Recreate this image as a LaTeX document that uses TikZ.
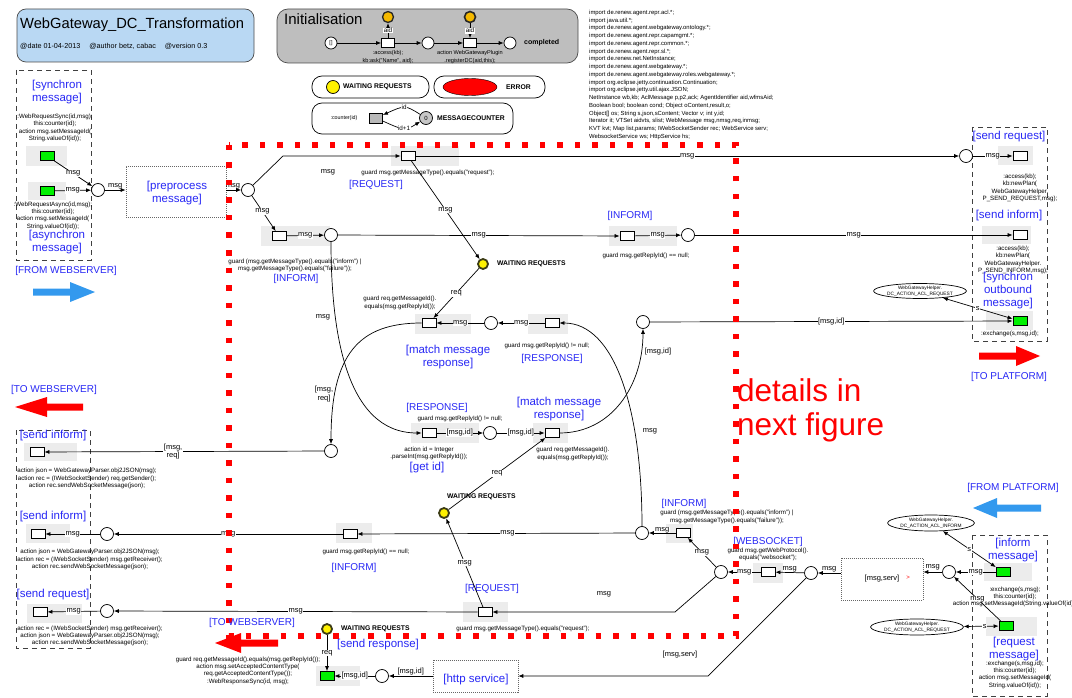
\documentclass[tikz,border=0pt]{standalone}
\usepackage{fontspec}
\setmainfont{Liberation Sans}
\usetikzlibrary{arrows.meta,shapes.geometric}
\definecolor{titleblue}{RGB}{185,216,243}
\definecolor{initgray}{RGB}{190,190,190}
\definecolor{bggray}{RGB}{236,236,236}
\definecolor{labblue}{RGB}{40,40,245}
\definecolor{fromblue}{RGB}{51,153,238}
\definecolor{waitborder}{RGB}{60,60,20}
\definecolor{inityellow}{RGB}{245,185,0}
\definecolor{tgreen}{RGB}{0,240,0}
\tikzset{
  pl/.style={circle, draw, fill=white, minimum size=13pt, inner sep=0pt, line width=0.7pt},
  tr/.style={rectangle, draw, fill=white, minimum width=14pt, minimum height=9pt, inner sep=0pt, line width=0.8pt},
  gtr/.style={tr, fill=tgreen},
  wait/.style={circle, draw=waitborder, fill=yellow, line width=1.8pt, minimum size=10pt, inner sep=0pt},
  lbl/.style={font=\fontsize{7.5}{8.5}\selectfont, inner sep=0.5pt, align=center},
  wlbl/.style={lbl, fill=white},
  code/.style={font=\fontsize{6.2}{7.3}\selectfont, inner sep=0pt, align=center},
  bluelab/.style={text=labblue, font=\fontsize{11.5}{13}\selectfont, inner sep=0pt, align=center},
  bluecap/.style={text=labblue, font=\fontsize{10}{13}\selectfont, inner sep=0pt, align=center},
  boldlab/.style={font=\bfseries\fontsize{6.8}{8}\selectfont, inner sep=0pt},
  arc/.style={-{Latex[length=5pt,width=4pt]}, line width=0.7pt},
  biarc/.style={{Latex[length=5pt,width=4pt]}-{Latex[length=5pt,width=4pt]}, line width=0.7pt},
  dbox/.style={draw=black!75, line width=0.9pt, dash pattern=on 5pt off 4pt},
  vbox/.style={draw=black!60, line width=0.6pt, dash pattern=on 1pt off 1pt, fill=white, inner sep=0pt},
  ell/.style={ellipse, draw, fill=white, line width=0.7pt, inner sep=0pt, font=\fontsize{4.8}{5.5}\selectfont, align=center},
}
\begin{document}
\begin{tikzpicture}[x=1pt,y=-1pt]
\useasboundingbox (0,0) rectangle (1072,698);
\fill[white] (0,0) rectangle (1072,698);

% ---------------- title
\node[draw=black!70, fill=titleblue, rounded corners=9pt, minimum width=237pt, minimum height=53pt, line width=0.7pt] (titlebox) at (135.5,35.5) {};
\node[anchor=west, font=\fontsize{14.7}{16}\selectfont, inner sep=0pt] (title) at (20,25) {WebGateway\_DC\_Transformation};
\node[anchor=west, font=\fontsize{7.2}{8}\selectfont, inner sep=0pt] (meta) at (20,46) {@date 01-04-2013\hspace{9pt}@author betz, cabac\hspace{9pt}@version 0.3};

% ---------------- initialisation
\node[draw=black!70, fill=initgray, rounded corners=11pt, minimum width=301pt, minimum height=54pt, line width=0.7pt] (initbox) at (427.5,36) {};
\node[anchor=west, font=\fontsize{15}{16}\selectfont, inner sep=0pt] (inittitle) at (284,19) {Initialisation};
\node[pl, minimum size=12pt, font=\fontsize{5.5}{6}\selectfont] (pzero) at (331,43) {[]};
\node[tr, minimum width=13pt] (tone) at (388,43) {};
\node[pl, minimum size=11pt, fill=inityellow, draw=black!85, line width=1.3pt] (yone) at (388,17) {};
\node[pl, minimum size=12pt] (pone) at (428,43) {};
\node[tr, minimum width=13pt] (ttwo) at (470,43) {};
\node[pl, minimum size=11pt, fill=inityellow, draw=black!85, line width=1.6pt] (ytwo) at (470,17) {};
\node[pl, minimum size=12pt] (ptwo) at (510,43) {};
\node[anchor=west, font=\bfseries\fontsize{7}{8}\selectfont, inner sep=0pt] (completed) at (524,43) {completed};
\draw[arc] (pzero) -- (tone);
\draw[arc] (tone) -- (pone);
\draw[arc] (pone) -- (ttwo);
\draw[arc] (ttwo) -- (ptwo);
\draw[arc] (tone) -- node[wlbl, font=\fontsize{6.3}{7}\selectfont]{aid} (yone);
\draw[arc] (ytwo) -- node[wlbl, font=\fontsize{6.3}{7}\selectfont]{aid} (ttwo);
\node[code, font=\fontsize{5.6}{8}\selectfont] (accesskb) at (388,57) {:access(kb);\\kb:ask("Name", aid);};
\node[code, font=\fontsize{5.6}{8}\selectfont] (regdc) at (470,57) {action WebGatewayPlugin\\.registerDC(aid,this);};

% ---------------- legends
\node[draw, rounded corners=10pt, minimum width=117pt, minimum height=22pt, line width=0.7pt] (legwait) at (370.5,87) {};
\node[circle, draw, fill=yellow, minimum size=13pt, inner sep=0pt, line width=0.7pt] (legy) at (333,87) {};
\node[boldlab, anchor=west] (legwaittxt) at (343,87) {WAITING REQUESTS};
\node[draw, rounded corners=10pt, minimum width=111pt, minimum height=22pt, line width=0.7pt] (legerr) at (489.5,87) {};
\node[ellipse, draw, fill=red, minimum width=54pt, minimum height=17pt, inner sep=0pt] (legred) at (470,87) {};
\node[boldlab, anchor=west] (legerrtxt) at (506,87) {ERROR};
\node[draw, rounded corners=10pt, minimum width=201pt, minimum height=31pt, line width=0.7pt] (legcnt) at (412.5,118.5) {};
\node[code, font=\fontsize{5.3}{6}\selectfont] (cntlab) at (344,118) {:counter(id)};
\node[tr, fill=gray!55, minimum width=13pt, minimum height=10pt] (cntt) at (376,118) {};
\node[pl, fill=gray!45, minimum size=13pt, font=\fontsize{6}{7}\selectfont] (cntp) at (426,118) {0};
\node[boldlab, anchor=west] (cnttxt) at (437,118) {MESSAGECOUNTER};
\draw[arc] (cntp) .. controls (405,105) .. node[wlbl, font=\fontsize{6.3}{7}\selectfont]{id} (cntt);
\draw[arc] (cntt) .. controls (405,131) .. node[wlbl, font=\fontsize{6.3}{7}\selectfont]{id+1} (cntp);

% ---------------- declarations
\node[anchor=north west, align=left, inner sep=0pt, font=\fontsize{5.9}{7.75}\selectfont] (imports) at (589,10) {import de.renew.agent.repr.acl.*;\\
import java.util.*;\\
import de.renew.agent.webgateway.ontology.*;\\
import de.renew.agent.repr.capamgmt.*;\\
import de.renew.agent.repr.common.*;\\
import de.renew.agent.repr.sl.*;\\
import de.renew.net.NetInstance;\\
import de.renew.agent.webgateway.*;\\
import de.renew.agent.webgateway.roles.webgateway.*;\\
import org.eclipse.jetty.continuation.Continuation;\\
import org.eclipse.jetty.util.ajax.JSON;\\
NetInstance wb,kb; AclMessage p,p2,ack; AgentIdentifier aid,wfmsAid;\\
Boolean bool; boolean cond; Object oContent,result,o;\\
Object[] os; String s,json,sContent; Vector v; int y,id;\\
Iterator it; VTSet aidvts, slist; WebMessage msg,nmsg,req,inmsg;\\
KVT kvt; Map list,params; IWebSocketSender rec; WebService serv;\\
WebsocketService ws; HttpService hs;};

% ---------------- transition backgrounds
\fill[bggray] (26,146) rectangle (67,166);
\fill[bggray] (28,182) rectangle (66,200);
\fill[bggray] (391,146) rectangle (459,166);
\fill[bggray] (261,226) rectangle (330,246);
\fill[bggray] (609,226) rectangle (677,246);
\fill[bggray] (998,146) rectangle (1033,165);
\fill[bggray] (982,226) rectangle (1031,244);
\fill[bggray] (986,311) rectangle (1033,330);
\fill[bggray] (415,314) rectangle (471,334);
\fill[bggray] (528,314) rectangle (568,334);
\fill[bggray] (411,423) rectangle (479,443);
\fill[bggray] (533,423) rectangle (568,443);
\fill[bggray] (666,524) rectangle (693,543);
\fill[bggray] (753,563) rectangle (783,583);
\fill[bggray] (984,563) rectangle (1032,581);
\fill[bggray] (986,617) rectangle (1037,636);
\fill[bggray] (463,602) rectangle (508,622);
\fill[bggray] (336,523) rectangle (372,543);
\fill[bggray] (27,604) rectangle (82,623);
\fill[bggray] (24,443) rectangle (77,461);
\fill[bggray] (26,524) rectangle (70,543);
\fill[bggray] (316,666) rectangle (360,686);

% ---------------- dashed boxes
\draw[dbox] (16,70) rectangle (91,260);
\draw[dbox] (972,127) rectangle (1047,341);
\draw[dbox] (16,430) rectangle (90,648);
\draw[dbox] (972,535) rectangle (1047,696);

% ---------------- left: from webserver
\node[bluelab] (synclab) at (57,92.5) {[synchron\\message]};
\node[code] (synccode) at (55,128) {:WebRequestSync(id,msg);\\this:counter(id);\\action msg.setMessageId(\\String.valueOf(id));};
\node[gtr] (tsone) at (47,156) {};
\node[gtr] (tstwo) at (47,191) {};
\node[pl] (pin) at (98,190) {};
\draw[arc] (tsone) -- node[wlbl]{msg} (pin);
\draw[arc] (tstwo) -- node[wlbl]{msg} (pin);
\node[code] (asynccode) at (53,215.5) {:WebRequestAsync(id,msg);\\this:counter(id);\\action msg.setMessageId(\\String.valueOf(id));};
\node[bluelab] (asynclab) at (57,242.5) {[asynchron\\message]};
\node[bluecap] (fromweb) at (66,271) {[FROM WEBSERVER]};
\fill[fromblue] (33,288.5) -- (70,288.5) -- (70,282) -- (95,292) -- (70,302) -- (70,295.5) -- (33,295.5) -- cycle;
\node[vbox, minimum width=100pt, minimum height=51pt] (prep) at (176,191.5) {};
\node[bluelab] (preplab) at (177,193) {[preprocess\\message]};
\draw[arc] (pin) -- node[lbl, above]{msg} (prep.west |- pin);

% ---------------- top part of inner net
\node[pl] (pa) at (248,190) {};
\draw[arc] (prep.east |- pa) -- node[lbl, above, pos=0.45]{msg} (pa);
\node[tr] (treq) at (408,156) {};
\draw[arc] (pa) -- (283,156) -- (treq);
\node[lbl] (msgfree1) at (328,172) {msg};
\node[code] (guardreq) at (428,173) {guard msg.getMessageType().equals("request");};
\node[bluecap] (reqlab) at (376,185) {[REQUEST]};
\node[wait] (wone) at (483,264) {};
\node[boldlab, anchor=west] (wonelab) at (497,264) {WAITING REQUESTS};
\draw[arc] (treq) -- node[wlbl]{msg} (wone);
\node[tr] (tinfone) at (279,236) {};
\draw[arc] (pa) -- node[wlbl, pos=0.45]{msg} (tinfone);
\node[pl] (pb) at (331,235) {};
\draw[arc] (tinfone) -- node[wlbl]{msg} (pb);
\node[code] (guardinf1) at (295,265.5) {guard (msg.getMessageType().equals("inform") |\\msg.getMessageType().equals("failure"));};
\node[bluecap] (inflab1) at (296,279) {[INFORM]};
\node[tr] (tinftwo) at (627,236) {};
\draw[arc] (pb) -- node[wlbl]{msg} (tinftwo);
\node[pl] (pc) at (688,235) {};
\draw[arc] (tinftwo) -- node[wlbl]{msg} (pc);
\node[bluecap] (inflab2) at (630,216) {[INFORM]};
\node[code] (guardinf2) at (646,256) {guard msg.getReplyId() == null;};

% ---------------- right: to platform
\node[bluelab] (sreqlab) at (1009,137) {[send request]};
\node[pl] (psr) at (966,156) {};
\node[tr] (tsr) at (1020,156) {};
\draw[arc] (treq) -- node[wlbl]{msg} (psr);
\draw[arc] (psr) -- node[wlbl]{msg} (tsr);
\node[code] (sreqcode) at (1020,188) {:access(kb);\\kb:newPlan(\\WebGatewayHelper.\\P\_SEND\_REQUEST,msg);};
\node[bluelab] (sinflab) at (1009,216) {[send inform]};
\node[tr] (tsi) at (1020,235) {};
\draw[arc] (pc) -- node[wlbl]{msg} (tsi);
\node[code] (sinfcode) at (1013,260) {:access(kb);\\kb:newPlan(\\WebGatewayHelper.\\P\_SEND\_INFORM,msg);};
\node[bluelab] (synoutlab) at (1008,290.5) {[synchron\\outbound\\message]};
\node[ell, minimum width=78pt, minimum height=15pt] (ellreq) at (920,291) {WebGatewayHelper.\\DC\_ACTION\_ACL\_REQUEST};
\node[gtr] (tso) at (1020,321) {};
\draw[biarc] (ellreq) -- node[wlbl]{s} (tso);
\node[code] (exchcode) at (1010,334) {:exchange(s,msg,id);};
\node[pl] (pd) at (643,322) {};
\draw[arc] (pd) -- node[wlbl]{[msg,id]} (tso);
\fill[red] (979,352.5) -- (1016,352.5) -- (1016,346) -- (1040,356) -- (1016,366) -- (1016,359.5) -- (979,359.5) -- cycle;
\node[bluecap] (toplat) at (1009,377) {[TO PLATFORM]};

% ---------------- middle: response matching
\node[tr] (tmmone) at (429,323) {};
\draw[arc] (wone) -- node[wlbl]{req} (tmmone);
\node[code] (guardmm1) at (400,303) {guard req.getMessageId().\\equals(msg.getReplyId());};
\node[pl] (pe) at (491,323) {};
\draw[arc] (pe) -- node[wlbl]{msg} (tmmone);
\node[tr] (tresp) at (552,323) {};
\draw[arc] (tresp) -- node[wlbl]{msg} (pe);
\node[code] (guardresp1) at (547,346) {guard msg.getReplyId() != null;};
\node[bluecap] (resplab1) at (552,359) {[RESPONSE]};
\node[bluelab] (mmlab1) at (448,357.5) {[match message\\response]};
\node[pl] (pf) at (331,451) {};
\draw[arc] (tmmone) .. controls (358,323) and (331,355) .. (pf);
\node[lbl] (msgreqfree) at (324,394) {[msg,\\req]};
\node[tr] (tgetid) at (429,433) {};
\draw[arc] (pb) .. controls (331,330) and (345,433) .. (tgetid);
\node[lbl] (msgfree2) at (323,317) {msg};
\node[bluecap] (resplab2) at (437,408) {[RESPONSE]};
\node[code] (guardresp2) at (460,418.5) {guard msg.getReplyId() != null;};
\node[pl] (pg) at (490,433) {};
\draw[arc] (tgetid) -- node[wlbl]{[msg,id]} (pg);
\node[tr] (tmmtwo) at (552,433) {};
\draw[arc] (pg) -- node[wlbl]{[msg,id]} (tmmtwo);
\node[bluelab] (mmlab2) at (559,409) {[match message\\response]};
\node[code] (getidcode) at (429,453.5) {action id = Integer\\.parseInt(msg.getReplyId());};
\node[bluelab] (getidlab) at (427,468) {[get id]};
\node[code] (guardmm2) at (573,454) {guard req.getMessageId().\\equals(msg.getReplyId());};
\node[wait] (wtwo) at (444,513) {};
\node[boldlab, anchor=west] (wtwolab) at (447,497) {WAITING REQUESTS};
\draw[arc] (wtwo) -- node[wlbl]{req} (tmmtwo);
\draw[arc] (tmmtwo) .. controls (612,433) and (643,385) .. (pd);
\node[lbl] (msgidfree) at (658,352) {[msg,id]};
\node[pl] (ph) at (642,533) {};
\draw[arc] (ph) .. controls (642,410) and (615,323) .. (tresp);
\node[lbl] (msgfree3) at (650,431) {msg};
\node[red, anchor=west, align=left, inner sep=0pt, font=\fontsize{31.5}{34}\selectfont] (details) at (737,410) {details in\\next figure};

% ---------------- lower part
\node[tr] (tinfthree) at (683,533) {};
\draw[arc] (tinfthree) -- node[wlbl, yshift=3pt]{msg} (ph);
\node[bluecap] (inflab3) at (684,504) {[INFORM]};
\node[code] (guardinf3) at (727,517) {guard (msg.getMessageType().equals("inform") |\\msg.getMessageType().equals("failure"));};
\node[pl] (pii) at (721,572) {};
\draw[arc] (pii) -- node[wlbl]{msg} (tinfthree);
\node[tr] (tws) at (768,572) {};
\draw[arc] (tws) -- node[wlbl]{msg} (pii);
\node[bluecap] (wslab) at (768,542) {[WEBSOCKET]};
\node[code] (guardws) at (768,554.5) {guard msg.getWebProtocol().\\equals("websocket");};
\node[pl] (pj) at (811,573) {};
\draw[arc] (pj) -- node[lbl, above]{msg} (tws);
\node[vbox, minimum width=82pt, minimum height=42pt] (msgserv) at (882,579) {};
\node[lbl] (msgservtxt) at (882,579) {[msg,serv]};
\node[text=red, font=\fontsize{6}{7}\selectfont, inner sep=0pt] (redmark) at (908,578) {>};
\draw[arc] (msgserv.west |- pj) -- node[lbl, above]{msg} (pj);
\node[pl] (pk) at (949,572) {};
\draw[arc] (pk) -- node[lbl, above, yshift=1pt]{msg} (msgserv.east |- pk);
\node[gtr] (tim) at (1003,572) {};
\draw[arc] (tim) -- node[wlbl]{msg} (pk);
\node[gtr] (trm) at (1006,626) {};
\draw[arc] (trm) -- node[wlbl]{msg} (pk);
\node[ell, minimum width=78pt, minimum height=16pt] (ellinf) at (931,523) {WebGatewayHelper.\\DC\_ACTION\_ACL\_INFORM};
\draw[biarc] (ellinf) -- node[wlbl]{s} (tim);
\node[ell, minimum width=72pt, minimum height=16pt] (ellreqtwo) at (917,627) {WebGatewayHelper.\\DC\_ACTION\_ACL\_REQUEST};
\draw[biarc] (ellreqtwo) -- node[wlbl, pos=0.6]{s} (trm);
\node[bluelab] (inflabm) at (1013,550.5) {[inform\\message]};
\node[code] (imcode) at (1015,597) {:exchange(s,msg);\\this:counter(id);\\action msg.setMessageId(String.valueOf(id));};
\node[bluelab] (rmlab) at (1014,649.5) {[request\\message]};
\node[code] (rmcode) at (1015,674.5) {:exchange(s,msg,id);\\this:counter(id);\\action msg.setMessageId(\\String.valueOf(id));};
\node[bluecap] (fromplat) at (1013,488) {[FROM PLATFORM]};
\fill[fromblue] (1041,504.5) -- (997,504.5) -- (997,498) -- (973,508) -- (997,518) -- (997,511.5) -- (1041,511.5) -- cycle;

% request going back to webserver
\node[tr] (treqtwo) at (485,612) {};
\draw[arc] (pii) -- (675,612) -- (treqtwo);
\node[lbl] (msgfree4) at (604,594) {msg};
\node[bluecap] (reqlab2) at (492,589) {[REQUEST]};
\node[code] (guardreq2) at (523,629) {guard msg.getMessageType().equals("request");};
\draw[arc] (treqtwo) -- node[wlbl]{msg} (wtwo);
\node[pl] (pl) at (107,611) {};
\draw[arc] (treqtwo) -- node[wlbl]{msg} (pl);
\node[tr] (tsreq) at (40,612) {};
\draw[arc] (pl) -- node[wlbl]{msg} (tsreq);
\node[bluelab] (sreqlab2) at (53,595) {[send request]};
\node[code] (sreqcode2) at (90,636) {action rec = (IWebSocketSender) msg.getReceiver();\\action json = WebGatewayParser.obj2JSON(msg);\\action rec.sendWebSocketMessage(json);};

% send inform (reply)
\node[bluelab] (sinflab2) at (53,436) {[send inform]};
\node[tr] (tsione) at (37,452) {};
\draw[arc] (pf) -- node[wlbl, pos=0.54]{[msg,\\req]} (tsione);
\node[code] (sinfcode2) at (87,478.5) {action json = WebGatewayParser.obj2JSON(msg);\\action rec = (IWebSocketSender) req.getSender();\\action rec.sendWebSocketMessage(json);};
\node[bluelab] (sinflab3) at (53,517) {[send inform]};
\node[tr] (tsitwo) at (38,534) {};
\node[pl] (pm) at (107,534) {};
\draw[arc] (pm) -- node[wlbl]{msg} (tsitwo);
\node[tr] (tinffour) at (350,534) {};
\draw[arc] (ph) -- node[wlbl, pos=0.46]{msg} (tinffour);
\draw[arc] (tinffour) -- node[wlbl]{msg} (pm);
\node[code] (guardinf4) at (366,551.5) {guard msg.getReplyId() == null;};
\node[bluecap] (inflab4) at (354,568) {[INFORM]};
\node[code] (sinfcode3) at (90,559.5) {action json = WebGatewayParser.obj2JSON(msg);\\action rec = (IWebSocketSender) msg.getReceiver();\\action rec.sendWebSocketMessage(json);};

\node[bluecap] (toweb1) at (54,390) {[TO WEBSERVER]};
\fill[red] (83,403.5) -- (47,403.5) -- (47,397) -- (15,407) -- (47,417) -- (47,410.5) -- (83,410.5) -- cycle;

% http response
\node[vbox, minimum width=85pt, minimum height=32pt] (http) at (475.5,676) {};
\node[bluelab] (httplab) at (476,680) {[http service]};
\draw[arc] (pj) -- (708,676) -- (http);
\node[lbl] (msgservfree) at (680,655) {[msg,serv]};
\node[pl] (pn) at (382,676) {};
\draw[arc] (http) -- node[lbl, above]{[msg,id]} (pn);
\node[gtr] (tsresp) at (327,676) {};
\draw[arc] (pn) -- node[wlbl]{[msg,id]} (tsresp);
\node[wait] (wthree) at (327,629) {};
\node[boldlab, anchor=west] (wthreelab) at (341,629) {WAITING REQUESTS};
\draw[arc] (wthree) -- node[wlbl]{req} (tsresp);
\node[bluelab] (srsplab) at (378,645) {[send response]};
\node[code] (srspcode) at (248,670.5) {guard req.getMessageId().equals(msg.getReplyId());\\action msg.setAcceptedContentType(\\req.getAcceptedContentType());\\:WebResponseSync(id, msg);};

% ---------------- red dotted frame and bottom arrow
\draw[draw=red, line width=5.5pt, dash pattern=on 5.5pt off 12pt] (229,145) rectangle (736,636);
\node[bluecap] (toweb2) at (252,623) {[TO WEBSERVER]};
\fill[red] (278,639.5) -- (241,639.5) -- (241,633) -- (215,643) -- (241,653) -- (241,646.5) -- (278,646.5) -- cycle;
\end{tikzpicture}
\end{document}
